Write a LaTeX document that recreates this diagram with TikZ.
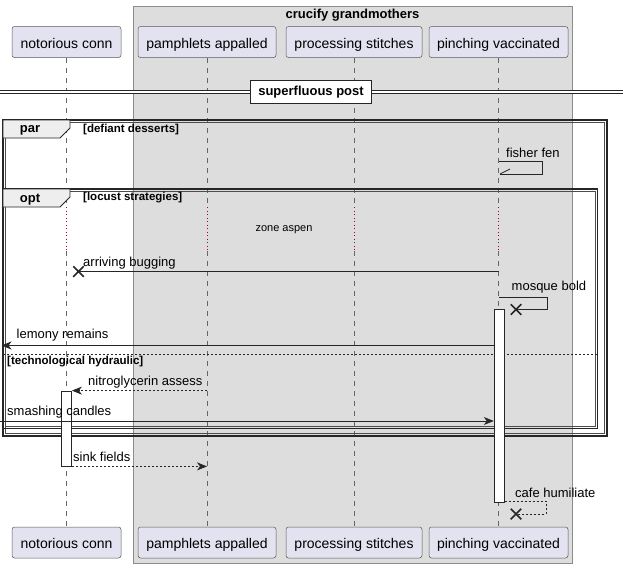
\documentclass[tikz,border=0pt]{standalone}
\usepackage{fontspec}
\setmainfont{Liberation Sans}
\usepackage{xcolor}
\usetikzlibrary{shapes.misc, arrows.meta, positioning, calc}
\definecolor{actorfill}{HTML}{E2E2F0}
\definecolor{groupfill}{HTML}{DDDDDD}
\definecolor{tabfill}{HTML}{EEEEEE}
\definecolor{delayred}{HTML}{A80036}

\begin{document}
\begin{tikzpicture}[
    x=1pt, y=-1pt,
    actor/.style={draw=black!65, fill=actorfill, rounded corners=2.5pt, line width=0.5pt, minimum height=31pt, inner sep=0pt, text height=12pt, text depth=0pt, font=\fontsize{14}{16}\selectfont},
    lifeline/.style={draw=black!60, line width=0.5pt, dash pattern=on 5pt off 5pt},
    delayline/.style={draw=delayred, line width=1pt, dash pattern=on 1.3pt off 2.2pt},
    msg/.style={draw=black!85, line width=0.8pt},
    reply/.style={msg, dash pattern=on 2pt off 2pt},
    tip/.style={-{Stealth[length=10pt, width=8pt, inset=3pt]}},
    lbl/.style={anchor=west, inner sep=0pt, font=\fontsize{13}{15}\selectfont},
    guard/.style={anchor=west, inner sep=0pt, font=\bfseries\fontsize{11.5}{13}\selectfont},
    killx/.style={cross out, draw=black!85, line width=1.5pt, minimum size=9pt, inner sep=0pt},
    actbar/.style={draw=black!85, fill=white, line width=0.8pt, minimum width=10pt, inner sep=0pt},
    frame/.style={draw=black!85, line width=1.3pt},
    inframe/.style={draw=black!70, line width=0.7pt},
    tab/.style={draw=black!85, fill=tabfill, line width=0.8pt}
]
    \useasboundingbox (0,0) rectangle (623,568);

    \draw[draw=black!45, fill=groupfill, line width=0.6pt] (133,6) rectangle (572,563);
    \node[font=\bfseries\fontsize{13}{15}\selectfont] (grp) at (352.5,15) {crucify grandmothers};

    \node[actor, minimum width=109pt] (nc-top) at (66.5,42) {notorious conn};
    \node[actor, minimum width=138pt] (pa-top) at (207,42) {pamphlets appalled};
    \node[actor, minimum width=136pt] (ps-top) at (354,42) {processing stitches};
    \node[actor, minimum width=139pt] (pv-top) at (498.5,42) {pinching vaccinated};

    \node[actor, minimum width=109pt] (nc-bot) at (66.5,542.5) {notorious conn};
    \node[actor, minimum width=138pt] (pa-bot) at (207,542.5) {pamphlets appalled};
    \node[actor, minimum width=136pt] (ps-bot) at (354,542.5) {processing stitches};
    \node[actor, minimum width=139pt] (pv-bot) at (498.5,542.5) {pinching vaccinated};

    \coordinate (delaytop) at (0,207);
    \coordinate (delaybot) at (0,251);
    \foreach \p in {nc,pa,ps,pv} {
        \draw[lifeline] (\p-top) -- (\p-top |- delaytop);
        \draw[delayline] (\p-top |- delaytop) -- (\p-top |- delaybot);
        \draw[lifeline] (\p-top |- delaybot) -- (\p-bot);
    }

    \coordinate (divleft) at (0,92);
    \coordinate (divright) at (623,92);
    \draw[draw=black!85, double, double distance=2.4pt, line width=0.8pt] (divleft) -- (divright);
    \node[draw=black!85, fill=white, line width=1.4pt, minimum width=121pt, minimum height=23pt, inner sep=0pt, font=\bfseries\fontsize{13}{15}\selectfont] (divider) at (311,92) {superfluous post};

    \draw[frame] (3,120) rectangle (607,436);
    \draw[inframe] (5.2,122.2) rectangle (604.8,433.8);
    \draw[tab] (3,120) -- (70,120) -- (70,128) -- (60,138) -- (3,138) -- cycle;
    \node[font=\bfseries\fontsize{13}{15}\selectfont] (par) at (30,130) {par};
    \node[guard] (par-guard) at (83,130) {[defiant desserts]};

    \draw[frame] (3,189) rectangle (597.5,428.5);
    \draw[inframe] (5.2,191.2) rectangle (595.3,426.3);
    \draw[tab] (3,189) -- (70,189) -- (70,197) -- (60,207) -- (3,207) -- cycle;
    \node[font=\bfseries\fontsize{13}{15}\selectfont] (opt) at (30,199.5) {opt};
    \node[guard] (opt-guard) at (83,198) {[locust strategies]};

    \coordinate (sepleft) at (3,354);
    \coordinate (sepright) at (597,354);
    \draw[draw=black!85, line width=0.6pt, dash pattern=on 2pt off 2pt] (sepleft) -- (sepright);
    \node[guard] (else-guard) at (7,362) {[technological hydraulic]};

    \node[lbl] (fisher) at (506,153) {fisher fen};
    \coordinate (ff-a) at (498.5,161.5);
    \coordinate (ff-b) at (542,161.5);
    \coordinate (ff-c) at (542,174);
    \coordinate (ff-d) at (500,174);
    \draw[msg] (ff-a) -- (ff-b) -- (ff-c) -- (ff-d);
    \draw[msg] (ff-d) -- ++(10,-5);

    \node[font=\fontsize{11}{13}\selectfont] (zone) at (284,230) {zone aspen};

    \node[lbl] (arriving) at (83,263) {arriving bugging};
    \node[killx] (x-arriving) at (78.5,271.5) {};
    \coordinate (ab-a) at (498.5,271);
    \draw[msg] (ab-a) -- (x-arriving.center |- ab-a);

    \node[lbl] (mosque) at (511.5,287.5) {mosque bold};
    \node[killx] (x-mosque) at (516,309.5) {};
    \coordinate (mb-a) at (498.5,297);
    \coordinate (mb-b) at (547,297);
    \draw[msg] (mb-a) -- (mb-b) -- (mb-b |- x-mosque) -- (x-mosque.center);

    \node[actbar, minimum height=192.5pt] (pv-act) at (499.2,405.7) {};
    \node[actbar, minimum height=75pt] (nc-act) at (66.5,428.5) {};

    \node[lbl] (lemony) at (16.5,335.5) {lemony remains};
    \coordinate (lr-end) at (1.5,345.5);
    \draw[msg, tip] (pv-act.west |- lr-end) -- (lr-end);

    \node[lbl] (nitro) at (88,382.5) {nitroglycerin assess};
    \draw[reply, tip] (pa-top.center |- nc-act.north) -- (nc-act.north east);

    \node[lbl] (smashing) at (7,412.5) {smashing candles};
    \coordinate (sc-start) at (0,421);
    \draw[msg, tip] (sc-start) -- (pv-act.west |- sc-start);

    \node[lbl] (sink) at (73,456.5) {sink fields};
    \draw[reply, tip] (nc-act.south east) -- (pa-top.center |- nc-act.south);

    \node[lbl] (cafe) at (515,493) {cafe humiliate};
    \node[killx] (x-cafe) at (516,514) {};
    \coordinate (ch-b) at (546,501);
    \draw[reply] (pv-act.east |- ch-b) -- (ch-b) -- (ch-b |- x-cafe) -- (x-cafe.center);
\end{tikzpicture}
\end{document}
